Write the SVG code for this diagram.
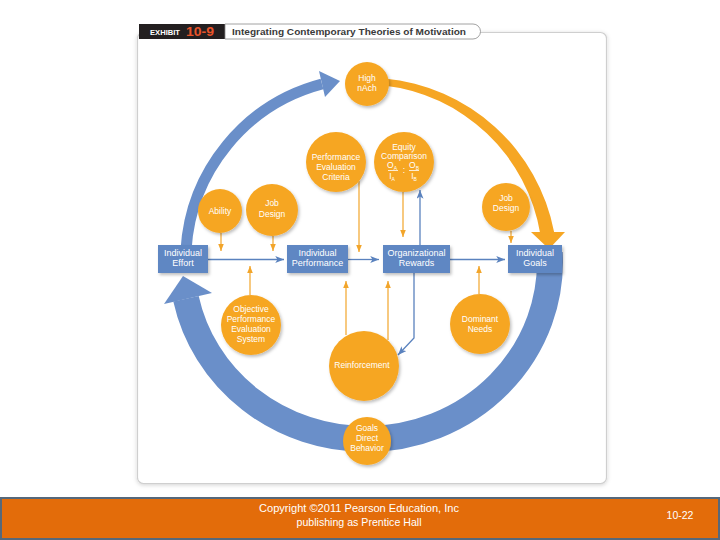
<svg xmlns="http://www.w3.org/2000/svg" width="720" height="540" viewBox="0 0 720 540">
  <defs>
    <filter id="sh" x="-20%" y="-20%" width="150%" height="150%">
      <feDropShadow dx="1.5" dy="2" stdDeviation="1.5" flood-color="#000" flood-opacity="0.25"/>
    </filter>
    <filter id="psh" x="-5%" y="-5%" width="110%" height="110%">
      <feDropShadow dx="0" dy="1" stdDeviation="2" flood-color="#000" flood-opacity="0.18"/>
    </filter>
    <marker id="mb" viewBox="0 0 10 8" refX="10" refY="4" markerWidth="9" markerHeight="7" markerUnits="userSpaceOnUse" orient="auto">
      <path d="M0,0 L10,4 L0,8 L2.5,4 z" fill="#5A82BE"/>
    </marker>
    <marker id="mo" viewBox="0 0 10 8" refX="10" refY="4" markerWidth="7" markerHeight="6" markerUnits="userSpaceOnUse" orient="auto">
      <path d="M0,0 L10,4 L0,8 z" fill="#F2A52A"/>
    </marker>
  </defs>
  <style>
    .circ { fill: #F6A623; filter: url(#sh); }
    .box { fill: #5F87C3; filter: url(#sh); }
    .ct { font-family: "Liberation Sans", Arial, sans-serif; font-size: 8.5px; fill: #fff; text-anchor: middle; }
    .bt { font-family: "Liberation Sans", Arial, sans-serif; font-size: 9px; fill: #fff; text-anchor: middle; }
    .sub { font-size: 5px; }
    .lb { stroke: #5A82BE; stroke-width: 1.3; fill: none; marker-end: url(#mb); }
    .lo { stroke: #F2A52A; stroke-width: 1.2; fill: none; marker-end: url(#mo); }
    .ft { font-family: "Liberation Sans", Arial, sans-serif; font-size: 10.5px; fill: #fff; text-anchor: middle; }
  </style>

  <rect width="720" height="540" fill="#fff"/>

  <!-- panel -->
  <rect x="137.5" y="32.5" width="469" height="451" rx="6" fill="#fff" stroke="#cfcfcf" stroke-width="1.2" filter="url(#psh)"/>

  <!-- header -->
  <g id="header">
    <rect x="139" y="24" width="86" height="15" fill="#231F20"/>
    <text x="150" y="35" font-family="Liberation Sans, Arial, sans-serif" font-size="7.5" font-weight="bold" fill="#fff" textLength="30" lengthAdjust="spacingAndGlyphs">EXHIBIT</text>
    <text x="186" y="36" font-family="Liberation Sans, Arial, sans-serif" font-size="12" font-weight="bold" fill="#E8542A" textLength="28" lengthAdjust="spacingAndGlyphs">10-9</text>
    <path d="M225,24 H473 A7,7 0 0 1 473,39 H225 Z" fill="#fff" stroke="#8a8a8a" stroke-width="0.8"/>
    <text x="232" y="34.5" font-family="Liberation Sans, Arial, sans-serif" font-size="9.5" font-weight="bold" fill="#3a3a3a" textLength="234" lengthAdjust="spacingAndGlyphs">Integrating Contemporary Theories of Motivation</text>
  </g>

  <!-- connectors -->
  <g id="connectors">
    <!-- upper blue arc -->
    <path d="M186,250 A183,183 0 0 1 322,84" fill="none" stroke="#6A8FC9" stroke-width="11"/>
    <polygon points="319,71 340,81 325,97" fill="#6A8FC9"/>
    <!-- orange arc -->
    <path d="M384.6,78.5 A190,190 0 0 1 554.1,232 L540.3,234 A179,179 0 0 0 383.9,85.5 Z" fill="#F6A623"/>
    <polygon points="531,232 565,232 549,249" fill="#F6A623"/>
    <!-- big bottom blue arc -->
    <path d="M549.7,252.7 A184,177 0 0 1 366,439 A184,177 0 0 1 186,298.8" fill="none" stroke="#6A8FC9" stroke-width="26"/>
    <polygon points="183,276 212,293 164,304" fill="#6A8FC9"/>

    <!-- thin connectors -->
    <path class="lb" d="M208,259.5 H284"/>
    <path class="lb" d="M348,259.5 H379"/>
    <path class="lb" d="M450,259.5 H505"/>
    <path class="lb" d="M420,245 V190"/>
    <path class="lb" d="M414,273 V338 L398,355"/>

    <path class="lo" d="M221,233 V251"/>
    <path class="lo" d="M273,236 V251"/>
    <path class="lo" d="M359,181 V252"/>
    <path class="lo" d="M403,192 V237"/>
    <path class="lo" d="M511,231 V243"/>
    <path class="lo" d="M250,295 V266"/>
    <path class="lo" d="M346,335 V281"/>
    <path class="lo" d="M388,340 V281"/>
    <path class="lo" d="M479,294 V266"/>
  </g>

  <!-- nodes -->
  <g id="high-nach">
    <circle class="circ" cx="367" cy="84" r="22"/>
    <text class="ct" x="367" y="81">High</text>
    <text class="ct" x="367" y="91">nAch</text>
  </g>
  <g id="perf-eval-criteria">
    <circle class="circ" cx="336" cy="162" r="30"/>
    <text class="ct" x="336" y="160">Performance</text>
    <text class="ct" x="336" y="170">Evaluation</text>
    <text class="ct" x="336" y="180">Criteria</text>
  </g>
  <g id="equity-comparison">
    <circle class="circ" cx="404" cy="162" r="30"/>
    <text class="ct" x="404" y="150">Equity</text>
    <text class="ct" x="404" y="159">Comparison</text>
    <text class="ct" x="392" y="168">O<tspan class="sub" dy="1.5">A</tspan></text>
    <line x1="388" y1="170.5" x2="398" y2="170.5" stroke="#fff" stroke-width="0.8"/>
    <text class="ct" x="392" y="179">I<tspan class="sub" dy="1.5">A</tspan></text>
    <text class="ct" x="404" y="173">:</text>
    <text class="ct" x="414" y="168">O<tspan class="sub" dy="1.5">B</tspan></text>
    <line x1="409" y1="170.5" x2="419" y2="170.5" stroke="#fff" stroke-width="0.8"/>
    <text class="ct" x="414" y="179">I<tspan class="sub" dy="1.5">B</tspan></text>
  </g>
  <g id="ability">
    <circle class="circ" cx="220" cy="211" r="22"/>
    <text class="ct" x="220" y="214">Ability</text>
  </g>
  <g id="job-design-left">
    <circle class="circ" cx="272" cy="210" r="26"/>
    <text class="ct" x="272" y="206">Job</text>
    <text class="ct" x="272" y="217">Design</text>
  </g>
  <g id="job-design-right">
    <circle class="circ" cx="506" cy="207" r="24"/>
    <text class="ct" x="506" y="201">Job</text>
    <text class="ct" x="506" y="211">Design</text>
  </g>
  <g id="individual-effort">
    <rect class="box" x="158" y="245" width="50" height="28"/>
    <text class="bt" x="183" y="256">Individual</text>
    <text class="bt" x="183" y="266">Effort</text>
  </g>
  <g id="individual-performance">
    <rect class="box" x="287" y="245" width="61" height="28"/>
    <text class="bt" x="317.5" y="256">Individual</text>
    <text class="bt" x="317.5" y="266">Performance</text>
  </g>
  <g id="organizational-rewards">
    <rect class="box" x="383" y="245" width="67" height="28"/>
    <text class="bt" x="416.5" y="256">Organizational</text>
    <text class="bt" x="416.5" y="266">Rewards</text>
  </g>
  <g id="individual-goals">
    <rect class="box" x="508" y="245" width="54" height="28"/>
    <text class="bt" x="535" y="256">Individual</text>
    <text class="bt" x="535" y="266">Goals</text>
  </g>
  <g id="objective-pes">
    <circle class="circ" cx="251" cy="325" r="30"/>
    <text class="ct" x="251" y="312">Objective</text>
    <text class="ct" x="251" y="322">Performance</text>
    <text class="ct" x="251" y="332">Evaluation</text>
    <text class="ct" x="251" y="342">System</text>
  </g>
  <g id="reinforcement">
    <circle class="circ" cx="364" cy="366" r="35"/>
    <text class="ct" x="362" y="368">Reinforcement</text>
  </g>
  <g id="dominant-needs">
    <circle class="circ" cx="480" cy="324" r="30"/>
    <text class="ct" x="480" y="322">Dominant</text>
    <text class="ct" x="480" y="332">Needs</text>
  </g>
  <g id="goals-direct-behavior">
    <circle class="circ" cx="367" cy="441" r="24"/>
    <text class="ct" x="367" y="431">Goals</text>
    <text class="ct" x="367" y="441">Direct</text>
    <text class="ct" x="367" y="451">Behavior</text>
  </g>

  <!-- footer -->
  <g id="footer">
    <rect x="1" y="498" width="718" height="41" fill="#E36C0A" stroke="#56687A" stroke-width="2"/>
    <text class="ft" x="359" y="511.5" textLength="200" lengthAdjust="spacingAndGlyphs">Copyright ©2011 Pearson Education, Inc</text>
    <text class="ft" x="359" y="526" textLength="125" lengthAdjust="spacingAndGlyphs">publishing as Prentice Hall</text>
    <text class="ft" x="680" y="519">10-22</text>
  </g>
</svg>
